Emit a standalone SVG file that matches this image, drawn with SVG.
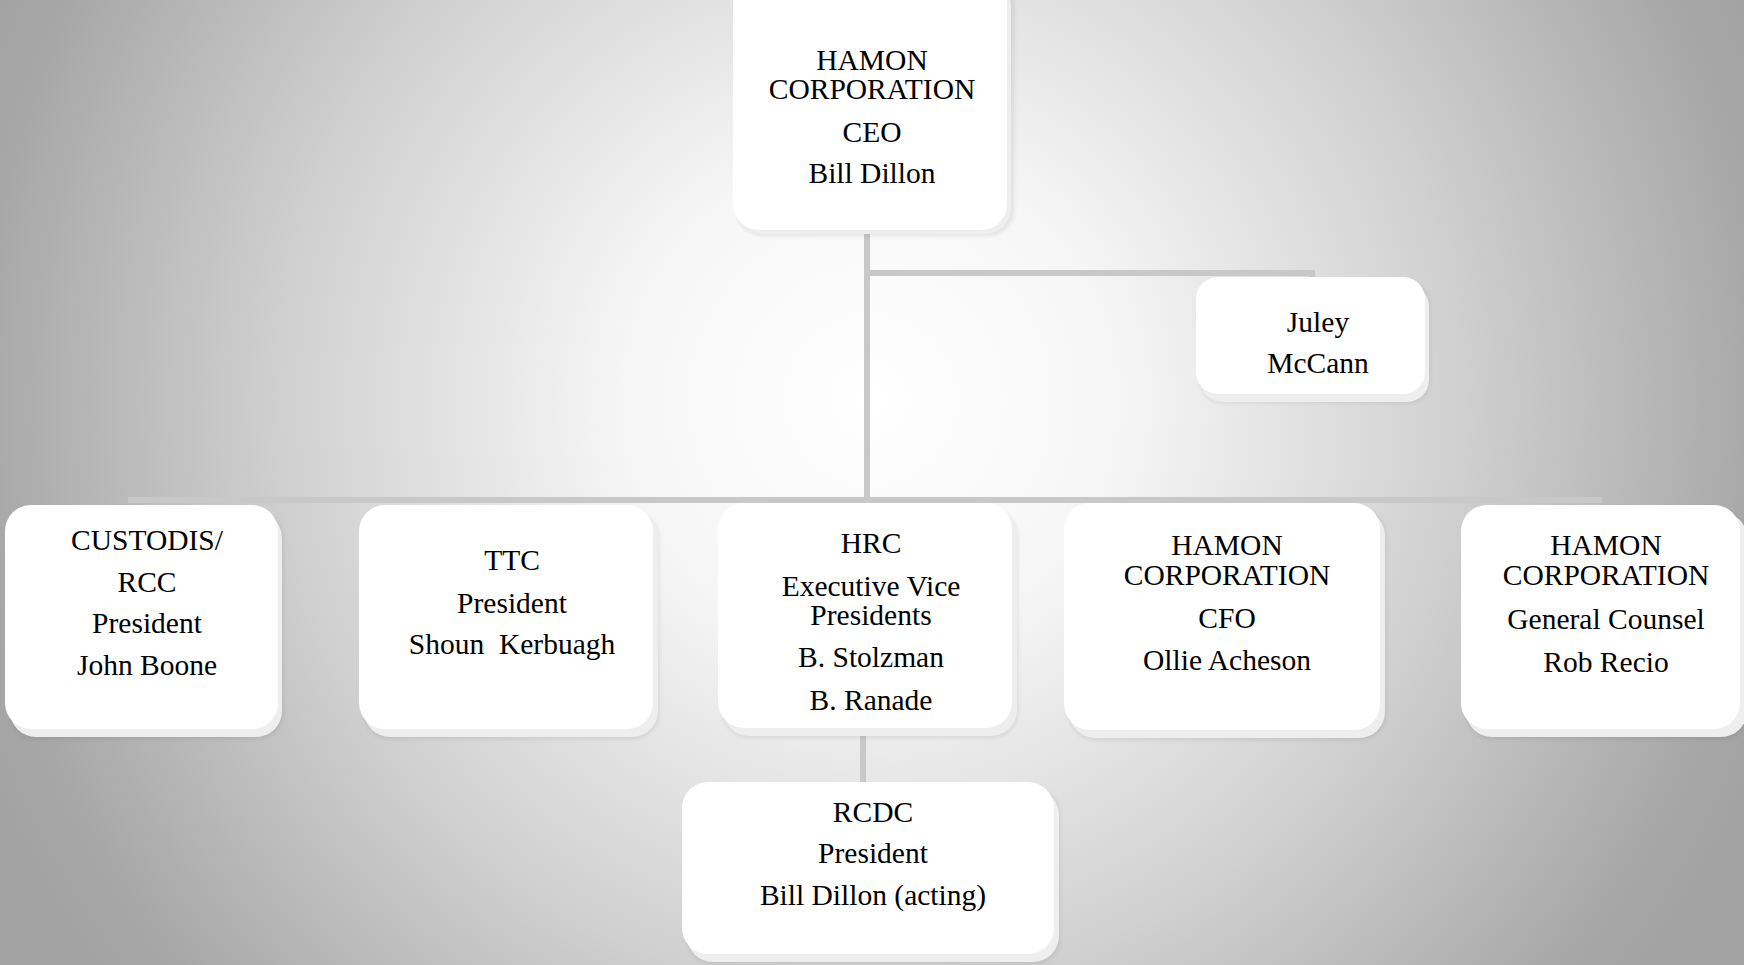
<svg xmlns="http://www.w3.org/2000/svg" width="1744" height="965" viewBox="0 0 1744 965">
  <defs>
    <radialGradient id="bg" gradientUnits="userSpaceOnUse" cx="870" cy="400" r="980">
      <stop offset="0" stop-color="#ffffff"/>
      <stop offset="0.25" stop-color="#f6f6f6"/>
      <stop offset="0.6" stop-color="#d0d0d0"/>
      <stop offset="0.92" stop-color="#a6a6a6"/>
      <stop offset="1" stop-color="#a2a2a2"/>
    </radialGradient>
    <filter id="sh" x="-10%" y="-10%" width="130%" height="130%">
      <feGaussianBlur stdDeviation="2"/>
    </filter>
  </defs>
  <style>
    .box { fill: #ffffff; }
    .back { fill: #eeeeee; }
    .soft { fill: #000000; opacity: 0.08; filter: url(#sh); }
    .t { font-family: "Liberation Serif", "Times New Roman", serif; font-size: 29.5px; fill: #000000; text-anchor: middle; white-space: pre; }
    .c { stroke: #c8c8c8; stroke-width: 6; fill: none; }
  </style>
  <rect x="0" y="0" width="1744" height="965" fill="url(#bg)"/>

  <g id="connectors">
    <line class="c" x1="867" y1="225" x2="867" y2="503"/>
    <polyline class="c" points="867,273 1312,273 1312,285"/>
    <line class="c" x1="128" y1="500" x2="1602" y2="500"/>
    <line class="c" x1="863" y1="730" x2="863" y2="786"/>
  </g>

  <g id="ceo">
    <rect class="soft" x="737" y="-20" width="277" height="256" rx="26"/>
    <rect class="back" x="737" y="-20" width="274" height="254" rx="26"/>
    <rect class="box" x="733" y="-24" width="274" height="254" rx="26"/>
    <text class="t" x="872" y="70">HAMON</text>
    <text class="t" x="872" y="99">CORPORATION</text>
    <text class="t" x="872" y="142">CEO</text>
    <text class="t" x="872" y="183">Bill Dillon</text>
  </g>

  <g id="juley">
    <rect class="soft" x="1200" y="283" width="230" height="120" rx="22"/>
    <rect class="back" x="1200" y="284" width="229" height="118" rx="22"/>
    <rect class="box" x="1196" y="277" width="229" height="117" rx="22"/>
    <text class="t" x="1318" y="332">Juley</text>
    <text class="t" x="1318" y="373">McCann</text>
  </g>

  <g id="custodis">
    <rect class="soft" x="10" y="512" width="273" height="227" rx="26"/>
    <rect class="back" x="10" y="512" width="272" height="225" rx="26"/>
    <rect class="box" x="5" y="505" width="273" height="224" rx="26"/>
    <text class="t" x="147" y="550">CUSTODIS/</text>
    <text class="t" x="147" y="592">RCC</text>
    <text class="t" x="147" y="633">President</text>
    <text class="t" x="147" y="675">John Boone</text>
  </g>

  <g id="ttc">
    <rect class="soft" x="364" y="512" width="295" height="227" rx="26"/>
    <rect class="back" x="364" y="512" width="294" height="225" rx="26"/>
    <rect class="box" x="359" y="505" width="294" height="224" rx="26"/>
    <text class="t" x="512" y="570">TTC</text>
    <text class="t" x="512" y="613">President</text>
    <text class="t" x="512" y="654">Shoun  Kerbuagh</text>
  </g>

  <g id="hrc">
    <rect class="soft" x="723" y="510" width="295" height="228" rx="26"/>
    <rect class="back" x="723" y="510" width="294" height="226" rx="26"/>
    <rect class="box" x="718" y="503" width="294" height="225" rx="26"/>
    <text class="t" x="871" y="553">HRC</text>
    <text class="t" x="871" y="596">Executive Vice</text>
    <text class="t" x="871" y="625">Presidents</text>
    <text class="t" x="871" y="667">B. Stolzman</text>
    <text class="t" x="871" y="710">B. Ranade</text>
  </g>

  <g id="cfo">
    <rect class="soft" x="1069" y="510" width="317" height="230" rx="26"/>
    <rect class="back" x="1069" y="510" width="316" height="228" rx="26"/>
    <rect class="box" x="1064" y="503" width="316" height="227" rx="26"/>
    <text class="t" x="1227" y="555">HAMON</text>
    <text class="t" x="1227" y="585">CORPORATION</text>
    <text class="t" x="1227" y="628">CFO</text>
    <text class="t" x="1227" y="670">Ollie Acheson</text>
  </g>

  <g id="counsel">
    <rect class="soft" x="1466" y="512" width="282" height="227" rx="26"/>
    <rect class="back" x="1466" y="512" width="281" height="225" rx="26"/>
    <rect class="box" x="1461" y="505" width="279" height="224" rx="26"/>
    <text class="t" x="1606" y="555">HAMON</text>
    <text class="t" x="1606" y="585">CORPORATION</text>
    <text class="t" x="1606" y="629">General Counsel</text>
    <text class="t" x="1606" y="672">Rob Recio</text>
  </g>

  <g id="rcdc">
    <rect class="soft" x="687" y="789" width="373" height="175" rx="26"/>
    <rect class="back" x="687" y="789" width="372" height="173" rx="26"/>
    <rect class="box" x="682" y="782" width="372" height="172" rx="26"/>
    <text class="t" x="873" y="822">RCDC</text>
    <text class="t" x="873" y="863">President</text>
    <text class="t" x="873" y="905">Bill Dillon (acting)</text>
  </g>
</svg>
